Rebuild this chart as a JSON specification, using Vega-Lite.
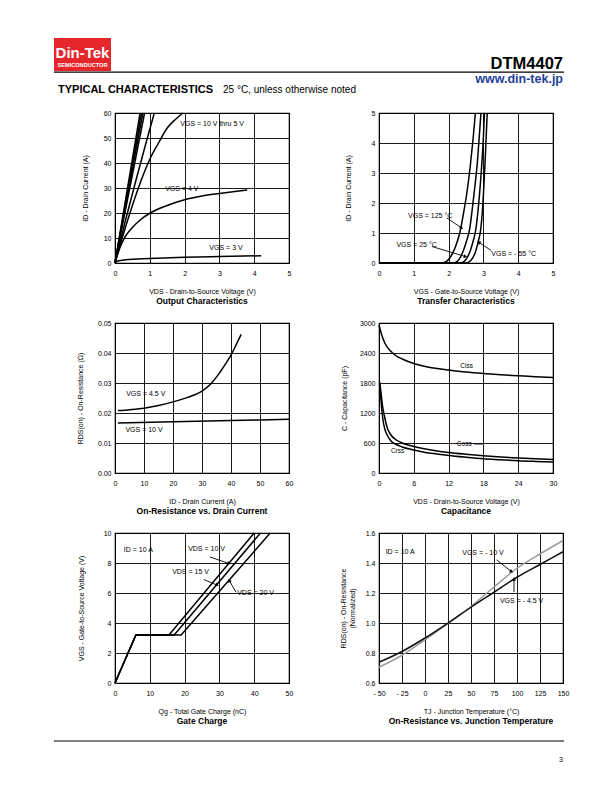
{
  "$schema": "https://vega.github.io/schema/vega-lite/v6.json",
  "padding": {"left": 53, "top": 38, "right": 0, "bottom": 0},
  "background": "white",
  "columns": 2,
  "bounds": "flush",
  "align": "each",
  "spacing": {"row": 60, "column": 90},
  "datasets": {
    "out": [
      {"s":"a","x":0,"y":0},{"s":"a","x":0.72,"y":60},
      {"s":"b","x":0,"y":0},{"s":"b","x":0.76,"y":60},
      {"s":"c","x":0,"y":0},{"s":"c","x":0.8,"y":60},
      {"s":"d","x":0,"y":0},{"s":"d","x":0.85,"y":60},
      {"s":"e","x":0,"y":0},{"s":"e","x":0.3,"y":17},{"s":"e","x":0.6,"y":33},{"s":"e","x":0.9,"y":48.5},{"s":"e","x":1.13,"y":60},
      {"s":"f","x":0,"y":0},{"s":"f","x":0.25,"y":12},{"s":"f","x":0.5,"y":23},{"s":"f","x":0.75,"y":33},{"s":"f","x":1.0,"y":41.5},{"s":"f","x":1.25,"y":48},{"s":"f","x":1.5,"y":54},{"s":"f","x":1.75,"y":57.6},{"s":"f","x":1.95,"y":60},
      {"s":"g","x":0,"y":0},{"s":"g","x":0.1,"y":4.5},{"s":"g","x":0.2,"y":8},{"s":"g","x":0.3,"y":10.7},{"s":"g","x":0.5,"y":14.2},{"s":"g","x":0.75,"y":17.5},{"s":"g","x":1,"y":19.9},{"s":"g","x":1.5,"y":23},{"s":"g","x":2,"y":25.3},{"s":"g","x":2.5,"y":26.8},{"s":"g","x":3,"y":27.8},{"s":"g","x":3.5,"y":28.7},{"s":"g","x":3.8,"y":29.2},
      {"s":"h","x":0,"y":0},{"s":"h","x":0.1,"y":0.9},{"s":"h","x":0.3,"y":1.3},{"s":"h","x":1,"y":1.8},{"s":"h","x":2,"y":2.3},{"s":"h","x":3,"y":2.6},{"s":"h","x":4.2,"y":2.9}
    ],
    "outLab": [
      {"x":2.79,"y":55.7,"t":"VGS = 10 V thru 5 V"},
      {"x":1.92,"y":29.8,"t":"VGS = 4 V"},
      {"x":3.19,"y":6.0,"t":"VGS = 3 V"}
    ],
    "transfer": [
      {"s":"A","x":0,"y":0},{"s":"A","x":1.8,"y":0},{"s":"A","x":1.95,"y":0.06},{"s":"A","x":2.08,"y":0.25},{"s":"A","x":2.2,"y":0.55},{"s":"A","x":2.32,"y":1.0},{"s":"A","x":2.42,"y":1.6},{"s":"A","x":2.52,"y":2.3},{"s":"A","x":2.62,"y":3.2},{"s":"A","x":2.7,"y":4.1},{"s":"A","x":2.77,"y":5},
      {"s":"B","x":0,"y":0},{"s":"B","x":2.15,"y":0},{"s":"B","x":2.3,"y":0.12},{"s":"B","x":2.42,"y":0.4},{"s":"B","x":2.52,"y":0.75},{"s":"B","x":2.6,"y":1.1},{"s":"B","x":2.68,"y":1.8},{"s":"B","x":2.76,"y":2.6},{"s":"B","x":2.83,"y":3.4},{"s":"B","x":2.88,"y":4.2},{"s":"B","x":2.93,"y":5},
      {"s":"C","x":0,"y":0},{"s":"C","x":2.35,"y":0},{"s":"C","x":2.5,"y":0.12},{"s":"C","x":2.62,"y":0.4},{"s":"C","x":2.71,"y":0.75},{"s":"C","x":2.78,"y":1.1},{"s":"C","x":2.85,"y":1.8},{"s":"C","x":2.91,"y":2.6},{"s":"C","x":2.96,"y":3.4},{"s":"C","x":3.0,"y":4.2},{"s":"C","x":3.03,"y":5},
      {"s":"D","x":0,"y":0},{"s":"D","x":2.5,"y":0},{"s":"D","x":2.65,"y":0.1},{"s":"D","x":2.78,"y":0.4},{"s":"D","x":2.86,"y":0.75},{"s":"D","x":2.92,"y":1.1},{"s":"D","x":2.97,"y":1.7},{"s":"D","x":3.01,"y":2.5},{"s":"D","x":3.05,"y":3.4},{"s":"D","x":3.08,"y":4.2},{"s":"D","x":3.11,"y":5}
    ],
    "trLab": [
      {"x":1.47,"y":1.56,"t":"VGS = 125 °C"},
      {"x":1.08,"y":0.59,"t":"VGS = 25 °C"},
      {"x":3.87,"y":0.3,"t":"VGS = - 55 °C"}
    ],
    "trArr": [
      {"id":"a","x":2.36,"y":1.18,"x2":1.95,"y2":1.5},
      {"id":"b","x":2.47,"y":0.22,"x2":1.52,"y2":0.55},
      {"id":"c","x":2.88,"y":0.68,"x2":3.22,"y2":0.42}
    ],
    "rdsid": [
      {"s":"4.5V","x":1,"y":0.0208},{"s":"4.5V","x":5,"y":0.0211},{"s":"4.5V","x":10,"y":0.0216},{"s":"4.5V","x":15,"y":0.0225},{"s":"4.5V","x":20,"y":0.0237},{"s":"4.5V","x":25,"y":0.0252},{"s":"4.5V","x":30,"y":0.0273},{"s":"4.5V","x":33,"y":0.0297},{"s":"4.5V","x":36,"y":0.0333},{"s":"4.5V","x":38,"y":0.0362},{"s":"4.5V","x":40,"y":0.0393},{"s":"4.5V","x":42,"y":0.0432},{"s":"4.5V","x":43.5,"y":0.0462},
      {"s":"10V","x":1,"y":0.0167},{"s":"10V","x":20,"y":0.0171},{"s":"10V","x":40,"y":0.0175},{"s":"10V","x":60,"y":0.0179}
    ],
    "rdLab": [
      {"x":10.6,"y":0.0264,"t":"VGS = 4.5 V"},
      {"x":10.0,"y":0.0144,"t":"VGS = 10 V"}
    ],
    "cap": [
      {"s":"Ciss","x":0,"y":2960},{"s":"Ciss","x":0.5,"y":2750},{"s":"Ciss","x":1,"y":2600},{"s":"Ciss","x":2,"y":2440},{"s":"Ciss","x":3,"y":2340},{"s":"Ciss","x":4,"y":2280},{"s":"Ciss","x":6,"y":2190},{"s":"Ciss","x":8,"y":2130},{"s":"Ciss","x":10,"y":2090},{"s":"Ciss","x":12,"y":2060},{"s":"Ciss","x":15,"y":2020},{"s":"Ciss","x":18,"y":1990},{"s":"Ciss","x":21,"y":1965},{"s":"Ciss","x":24,"y":1945},{"s":"Ciss","x":27,"y":1925},{"s":"Ciss","x":30,"y":1910},
      {"s":"Coss","x":0.1,"y":1830},{"s":"Coss","x":0.3,"y":1650},{"s":"Coss","x":0.6,"y":1350},{"s":"Coss","x":0.9,"y":1160},{"s":"Coss","x":1.2,"y":1000},{"s":"Coss","x":1.5,"y":880},{"s":"Coss","x":2,"y":770},{"s":"Coss","x":3,"y":660},{"s":"Coss","x":4,"y":600},{"s":"Coss","x":5,"y":560},{"s":"Coss","x":6,"y":530},{"s":"Coss","x":8,"y":480},{"s":"Coss","x":10,"y":440},{"s":"Coss","x":12,"y":410},{"s":"Coss","x":15,"y":375},{"s":"Coss","x":18,"y":345},{"s":"Coss","x":21,"y":320},{"s":"Coss","x":24,"y":300},{"s":"Coss","x":27,"y":285},{"s":"Coss","x":30,"y":270},
      {"s":"Crss","x":0.1,"y":1800},{"s":"Crss","x":0.3,"y":1500},{"s":"Crss","x":0.5,"y":1250},{"s":"Crss","x":0.7,"y":1050},{"s":"Crss","x":1,"y":880},{"s":"Crss","x":1.5,"y":740},{"s":"Crss","x":2,"y":650},{"s":"Crss","x":3,"y":570},{"s":"Crss","x":4,"y":520},{"s":"Crss","x":6,"y":460},{"s":"Crss","x":8,"y":410},{"s":"Crss","x":10,"y":380},{"s":"Crss","x":12,"y":350},{"s":"Crss","x":15,"y":315},{"s":"Crss","x":18,"y":285},{"s":"Crss","x":21,"y":265},{"s":"Crss","x":24,"y":245},{"s":"Crss","x":27,"y":232},{"s":"Crss","x":30,"y":222}
    ],
    "capLab": [
      {"x":15.1,"y":2133,"t":"Ciss"},
      {"x":14.7,"y":580,"t":"Coss"},
      {"x":3.2,"y":433,"t":"Crss"}
    ],
    "capArr": [
      {"x":16.4,"y":580,"x2":17.9,"y2":580}
    ],
    "gate": [
      {"s":"10V","x":0,"y":0},{"s":"10V","x":6,"y":3.2},{"s":"10V","x":15.5,"y":3.2},{"s":"10V","x":40,"y":10},
      {"s":"15V","x":0,"y":0},{"s":"15V","x":6,"y":3.2},{"s":"15V","x":17,"y":3.2},{"s":"15V","x":41.8,"y":10},
      {"s":"20V","x":0,"y":0},{"s":"20V","x":6,"y":3.2},{"s":"20V","x":19,"y":3.2},{"s":"20V","x":44.6,"y":10}
    ],
    "gateLab": [
      {"x":6.7,"y":8.85,"t":"ID = 10 A"},
      {"x":26.3,"y":8.96,"t":"VDS = 10 V"},
      {"x":21.7,"y":7.38,"t":"VDS = 15 V"},
      {"x":40.4,"y":5.99,"t":"VDS = 20 V"}
    ],
    "gateArr": [
      {"id":"a","x":32.6,"y":7.98,"x2":27.3,"y2":8.4},
      {"id":"b","x":29.2,"y":6.54,"x2":25.5,"y2":6.9},
      {"id":"c","x":32.9,"y":6.8,"x2":34.8,"y2":6.05}
    ],
    "rdst": [
      {"s":"-10V","x":-50,"y":0.705},{"s":"-10V","x":-25,"y":0.785},{"s":"-10V","x":0,"y":0.887},{"s":"-10V","x":25,"y":0.997},{"s":"-10V","x":50,"y":1.11},{"s":"-10V","x":75,"y":1.24},{"s":"-10V","x":100,"y":1.365},{"s":"-10V","x":125,"y":1.46},{"s":"-10V","x":150,"y":1.55},
      {"s":"-4.5V","x":-50,"y":0.738},{"s":"-4.5V","x":-25,"y":0.81},{"s":"-4.5V","x":0,"y":0.9},{"s":"-4.5V","x":25,"y":1.0},{"s":"-4.5V","x":50,"y":1.105},{"s":"-4.5V","x":75,"y":1.205},{"s":"-4.5V","x":100,"y":1.305},{"s":"-4.5V","x":125,"y":1.39},{"s":"-4.5V","x":150,"y":1.475}
    ],
    "rtLab": [
      {"x":-27,"y":1.473,"t":"ID = 10 A"},
      {"x":63,"y":1.465,"t":"VGS = - 10 V"},
      {"x":105,"y":1.147,"t":"VGS = - 4.5 V"}
    ],
    "rtArr": [
      {"id":"a","x":93.5,"y":1.345,"x2":78,"y2":1.42},
      {"id":"b","x":96.7,"y":1.29,"x2":96.7,"y2":1.207}
    ]
  },
  "concat": [
    {
      "width": 174, "height": 15,
      "view": {"stroke": null},
      "data": {"values": [{}]},
      "layer": [
        {"mark": {"type": "rect", "color": "#e5262b"},
         "encoding": {"x": {"datum": 53, "type": "quantitative", "scale": {"domain": [114, 288], "nice": false, "zero": false}, "axis": null}, "x2": {"datum": 110},
                      "y": {"datum": 38, "type": "quantitative", "scale": {"domain": [53, 38], "nice": false, "zero": false}, "axis": null}, "y2": {"datum": 71}}},
        {"mark": {"type": "text", "text": "Din-Tek", "color": "white", "fontSize": 15, "fontWeight": "bold", "align": "center", "baseline": "alphabetic"},
         "encoding": {"x": {"datum": 81.5, "type": "quantitative", "scale": {"domain": [114, 288], "nice": false, "zero": false}, "axis": null},
                      "y": {"datum": 58, "type": "quantitative", "scale": {"domain": [53, 38], "nice": false, "zero": false}, "axis": null}}},
        {"mark": {"type": "text", "text": "SEMICONDUCTOR", "color": "white", "fontSize": 5.6, "fontWeight": "bold", "align": "center", "baseline": "alphabetic"},
         "encoding": {"x": {"datum": 81.5, "type": "quantitative", "scale": {"domain": [114, 288], "nice": false, "zero": false}, "axis": null},
                      "y": {"datum": 66.7, "type": "quantitative", "scale": {"domain": [53, 38], "nice": false, "zero": false}, "axis": null}}},
        {"mark": {"type": "rule", "color": "black", "strokeWidth": 1.2},
         "encoding": {"x": {"datum": 53, "type": "quantitative", "scale": {"domain": [114, 288], "nice": false, "zero": false}, "axis": null}, "x2": {"datum": 563},
                      "y": {"datum": 72.2, "type": "quantitative", "scale": {"domain": [53, 38], "nice": false, "zero": false}, "axis": null}}},
        {"mark": {"type": "text", "text": "TYPICAL CHARACTERISTICS", "color": "black", "fontSize": 11, "fontWeight": "bold", "align": "left", "baseline": "alphabetic"},
         "encoding": {"x": {"datum": 57, "type": "quantitative", "scale": {"domain": [114, 288], "nice": false, "zero": false}, "axis": null},
                      "y": {"datum": 93, "type": "quantitative", "scale": {"domain": [53, 38], "nice": false, "zero": false}, "axis": null}}},
        {"mark": {"type": "text", "text": "25 °C, unless otherwise noted", "color": "black", "fontSize": 10, "align": "left", "baseline": "alphabetic"},
         "encoding": {"x": {"datum": 222, "type": "quantitative", "scale": {"domain": [114, 288], "nice": false, "zero": false}, "axis": null},
                      "y": {"datum": 93, "type": "quantitative", "scale": {"domain": [53, 38], "nice": false, "zero": false}, "axis": null}}}
      ]
    },
    {
      "width": 174, "height": 15,
      "view": {"stroke": null},
      "data": {"values": [{}]},
      "layer": [
        {"mark": {"type": "text", "text": "DTM4407", "color": "black", "fontSize": 16.5, "fontWeight": "bold", "align": "right", "baseline": "alphabetic"},
         "encoding": {"x": {"datum": 562, "type": "quantitative", "scale": {"domain": [378, 552], "nice": false, "zero": false}, "axis": null},
                      "y": {"datum": 68.5, "type": "quantitative", "scale": {"domain": [53, 38], "nice": false, "zero": false}, "axis": null}}},
        {"mark": {"type": "text", "text": "www.din-tek.jp", "color": "#1f3f9a", "fontSize": 12.5, "fontWeight": "bold", "align": "right", "baseline": "alphabetic"},
         "encoding": {"x": {"datum": 562, "type": "quantitative", "scale": {"domain": [378, 552], "nice": false, "zero": false}, "axis": null},
                      "y": {"datum": 83, "type": "quantitative", "scale": {"domain": [53, 38], "nice": false, "zero": false}, "axis": null}}}
      ]
    },
    {
      "width": 174, "height": 150,
      "title": "Output Characteristics",
      "encoding": {
        "x": {"field": "x", "type": "quantitative", "scale": {"domain": [0, 5], "nice": false}, "axis": {"values": [0,1,2,3,4,5], "title": "VDS - Drain-to-Source Voltage (V)"}},
        "y": {"field": "y", "type": "quantitative", "scale": {"domain": [0, 60], "nice": false}, "axis": {"values": [0,10,20,30,40,50,60], "title": "ID - Drain Current (A)", "titlePadding": 14.7}}
      },
      "layer": [
        {"data": {"name": "out"}, "mark": {"type": "line", "interpolate": "monotone", "color": "black", "strokeWidth": 1.5},
         "encoding": {"detail": {"field": "s", "type": "nominal"}}},
        {"data": {"name": "outLab"}, "mark": {"type": "text", "fontSize": 7, "color": "black"},
         "encoding": {"text": {"field": "t"}}}
      ]
    },
    {
      "width": 174, "height": 150,
      "title": "Transfer Characteristics",
      "encoding": {
        "x": {"field": "x", "type": "quantitative", "scale": {"domain": [0, 5], "nice": false}, "axis": {"values": [0,1,2,3,4,5], "title": "VGS - Gate-to-Source Voltage (V)"}},
        "y": {"field": "y", "type": "quantitative", "scale": {"domain": [0, 5], "nice": false}, "axis": {"values": [0,1,2,3,4,5], "title": "ID - Drain Current (A)", "titlePadding": 19.6}}
      },
      "layer": [
        {"data": {"name": "transfer"}, "mark": {"type": "line", "interpolate": "monotone", "color": "black", "strokeWidth": 1.5},
         "encoding": {"detail": {"field": "s", "type": "nominal"}}},
        {"data": {"name": "trLab"}, "mark": {"type": "text", "fontSize": 7, "color": "black"},
         "encoding": {"text": {"field": "t"}}},
        {"data": {"name": "trArr"}, "mark": {"type": "rule", "color": "black", "strokeWidth": 0.9},
         "encoding": {"x2": {"field": "x2"}, "y2": {"field": "y2"}}},
        {"data": {"name": "trArr"}, "transform": [{"filter": "datum.id == 'a'"}], "mark": {"type": "point", "shape": "triangle", "filled": true, "size": 16, "angle": 124, "color": "black", "opacity": 1}},
        {"data": {"name": "trArr"}, "transform": [{"filter": "datum.id == 'b'"}], "mark": {"type": "point", "shape": "triangle", "filled": true, "size": 16, "angle": 107, "color": "black", "opacity": 1}},
        {"data": {"name": "trArr"}, "transform": [{"filter": "datum.id == 'c'"}], "mark": {"type": "point", "shape": "triangle", "filled": true, "size": 16, "angle": 304, "color": "black", "opacity": 1}}
      ]
    },
    {
      "width": 174, "height": 150,
      "title": "On-Resistance vs. Drain Current",
      "encoding": {
        "x": {"field": "x", "type": "quantitative", "scale": {"domain": [0, 60], "nice": false}, "axis": {"values": [0,10,20,30,40,50,60], "title": "ID - Drain Current (A)"}},
        "y": {"field": "y", "type": "quantitative", "scale": {"domain": [0, 0.05], "nice": false}, "axis": {"values": [0,0.01,0.02,0.03,0.04,0.05], "format": ".2f", "title": "RDS(on) - On-Resistance (Ω)", "titlePadding": 13.9}}
      },
      "layer": [
        {"data": {"name": "rdsid"}, "mark": {"type": "line", "interpolate": "monotone", "color": "black", "strokeWidth": 1.5},
         "encoding": {"detail": {"field": "s", "type": "nominal"}}},
        {"data": {"name": "rdLab"}, "mark": {"type": "text", "fontSize": 7, "color": "black"},
         "encoding": {"text": {"field": "t"}}}
      ]
    },
    {
      "width": 174, "height": 150,
      "title": "Capacitance",
      "encoding": {
        "x": {"field": "x", "type": "quantitative", "scale": {"domain": [0, 30], "nice": false}, "axis": {"values": [0,6,12,18,24,30], "title": "VDS - Drain-to-Source Voltage (V)"}},
        "y": {"field": "y", "type": "quantitative", "scale": {"domain": [0, 3000], "nice": false}, "axis": {"values": [0,600,1200,1800,2400,3000], "format": "d", "title": "C - Capacitance (pF)", "titlePadding": 11.9}}
      },
      "layer": [
        {"data": {"name": "cap"}, "mark": {"type": "line", "interpolate": "monotone", "color": "black", "strokeWidth": 1.5},
         "encoding": {"detail": {"field": "s", "type": "nominal"}}},
        {"data": {"name": "capLab"}, "mark": {"type": "text", "fontSize": 6.5, "color": "black"},
         "encoding": {"text": {"field": "t"}}},
        {"data": {"name": "capArr"}, "mark": {"type": "rule", "color": "black", "strokeWidth": 0.9},
         "encoding": {"x2": {"field": "x2"}, "y2": {"field": "y2"}}}
      ]
    },
    {
      "width": 174, "height": 150,
      "title": "Gate Charge",
      "encoding": {
        "x": {"field": "x", "type": "quantitative", "scale": {"domain": [0, 50], "nice": false}, "axis": {"values": [0,10,20,30,40,50], "title": "Qg - Total Gate Charge (nC)"}},
        "y": {"field": "y", "type": "quantitative", "scale": {"domain": [0, 10], "nice": false}, "axis": {"values": [0,2,4,6,8,10], "title": "VGS - Gate-to-Source Voltage (V)", "titlePadding": 18.7}}
      },
      "layer": [
        {"data": {"name": "gate"}, "mark": {"type": "line", "color": "black", "strokeWidth": 1.5},
         "encoding": {"detail": {"field": "s", "type": "nominal"}}},
        {"data": {"name": "gateLab"}, "mark": {"type": "text", "fontSize": 7, "color": "black"},
         "encoding": {"text": {"field": "t"}}},
        {"data": {"name": "gateArr"}, "mark": {"type": "rule", "color": "black", "strokeWidth": 0.9},
         "encoding": {"x2": {"field": "x2"}, "y2": {"field": "y2"}}},
        {"data": {"name": "gateArr"}, "transform": [{"filter": "datum.id == 'a'"}], "mark": {"type": "point", "shape": "triangle", "filled": true, "size": 16, "angle": 109, "color": "black", "opacity": 1}},
        {"data": {"name": "gateArr"}, "transform": [{"filter": "datum.id == 'b'"}], "mark": {"type": "point", "shape": "triangle", "filled": true, "size": 16, "angle": 113, "color": "black", "opacity": 1}},
        {"data": {"name": "gateArr"}, "transform": [{"filter": "datum.id == 'c'"}], "mark": {"type": "point", "shape": "triangle", "filled": true, "size": 16, "angle": 330, "color": "black", "opacity": 1}}
      ]
    },
    {
      "width": 184, "height": 150,
      "title": "On-Resistance vs. Junction Temperature",
      "encoding": {
        "x": {"field": "x", "type": "quantitative", "scale": {"domain": [-50, 150], "nice": false}, "axis": {"values": [-50,-25,0,25,50,75,100,125,150], "labelExpr": "datum.value < 0 ? '- ' + abs(datum.value) : '' + datum.value", "title": "TJ - Junction Temperature (°C)"}},
        "y": {"field": "y", "type": "quantitative", "scale": {"domain": [0.6, 1.6], "nice": false, "zero": false}, "axis": {"values": [0.6,0.8,1.0,1.2,1.4,1.6], "format": ".1f", "title": ["RDS(on) - On-Resistance", "(Normalized)"], "titlePadding": 9.8}}
      },
      "layer": [
        {"data": {"name": "rdst"}, "mark": {"type": "line", "interpolate": "monotone", "strokeWidth": 1.5},
         "encoding": {"color": {"field": "s", "type": "nominal", "scale": {"domain": ["-10V", "-4.5V"], "range": ["#9b9b9b", "#111111"]}, "legend": null}}},
        {"data": {"name": "rtLab"}, "mark": {"type": "text", "fontSize": 7, "color": "black"},
         "encoding": {"text": {"field": "t"}}},
        {"data": {"name": "rtArr"}, "mark": {"type": "rule", "color": "black", "strokeWidth": 0.9},
         "encoding": {"x2": {"field": "x2"}, "y2": {"field": "y2"}}},
        {"data": {"name": "rtArr"}, "transform": [{"filter": "datum.id == 'a'"}], "mark": {"type": "point", "shape": "triangle", "filled": true, "size": 16, "angle": 116, "color": "black", "opacity": 1}},
        {"data": {"name": "rtArr"}, "transform": [{"filter": "datum.id == 'b'"}], "mark": {"type": "point", "shape": "triangle", "filled": true, "size": 16, "angle": 0, "color": "black", "opacity": 1}}
      ]
    },
    {
      "width": 174, "height": 20,
      "view": {"stroke": null},
      "data": {"values": [{}]},
      "layer": [
        {"mark": {"type": "rule", "color": "black", "strokeWidth": 1},
         "encoding": {"x": {"datum": 53, "type": "quantitative", "scale": {"domain": [114, 288], "nice": false, "zero": false}, "axis": null}, "x2": {"datum": 563},
                      "y": {"datum": 741, "type": "quantitative", "scale": {"domain": [763, 743], "nice": false, "zero": false}, "axis": null}}}
      ]
    },
    {
      "width": 174, "height": 20,
      "view": {"stroke": null},
      "data": {"values": [{}]},
      "layer": [
        {"mark": {"type": "text", "text": "3", "color": "black", "fontSize": 7, "align": "right", "baseline": "alphabetic"},
         "encoding": {"x": {"datum": 562, "type": "quantitative", "scale": {"domain": [378, 552], "nice": false, "zero": false}, "axis": null},
                      "y": {"datum": 762, "type": "quantitative", "scale": {"domain": [763, 743], "nice": false, "zero": false}, "axis": null}}}
      ]
    }
  ],
  "config": {
    "font": "Liberation Sans",
    "view": {"stroke": "black", "strokeWidth": 1.2},
    "axis": {"grid": true, "gridColor": "black", "gridWidth": 0.9, "gridOpacity": 1, "domain": false, "ticks": false,
             "labelFontSize": 7, "labelColor": "black", "labelFont": "Liberation Sans", "labelFlush": false, "labelOverlap": false, "labelPadding": 4,
             "titleFontSize": 7, "titleFontWeight": "normal", "titleColor": "black", "titleFont": "Liberation Sans"},
    "axisX": {"labelPadding": 6, "titlePadding": 11},
    "title": {"orient": "bottom", "anchor": "middle", "font": "Liberation Sans Narrow, Liberation Sans", "fontSize": 8.5, "fontWeight": "bold", "color": "black", "offset": 3},
    "text": {"fontSize": 7, "color": "black"}
  }
}
